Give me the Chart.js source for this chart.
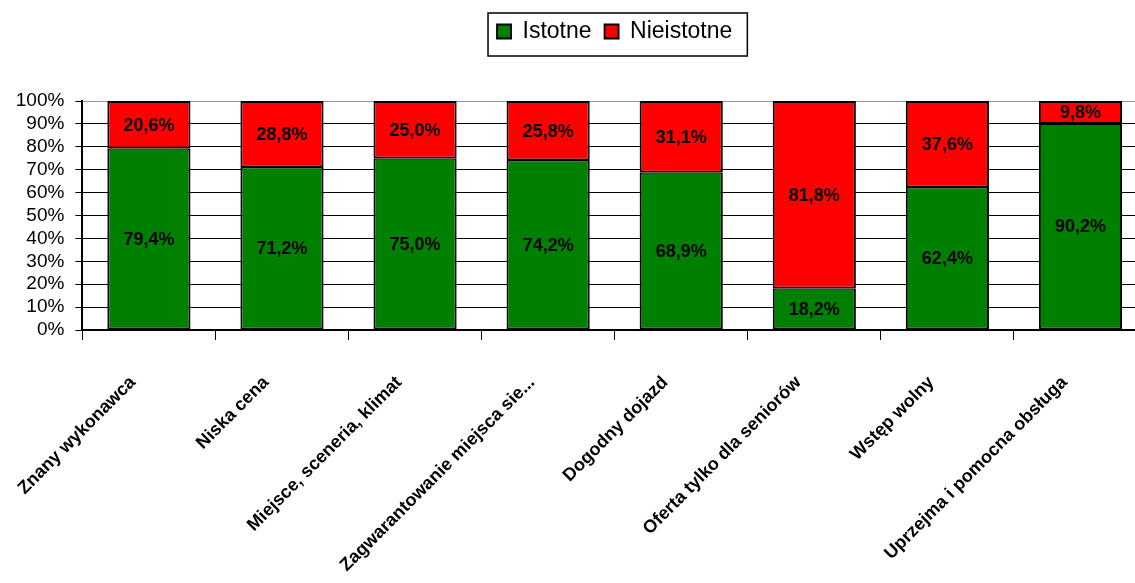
<!DOCTYPE html>
<html lang="pl">
<head>
<meta charset="utf-8">
<title>Istotne / Nieistotne</title>
<script src="https://cdn.jsdelivr.net/npm/chart.js@4.4.1/dist/chart.umd.min.js"></script>
<style>
  html, body { margin: 0; padding: 0; background: #fff; overflow: hidden; }
  #wrap { width: 1228px; height: 583px; }
</style>
</head>
<body>
<div id="wrap"><canvas id="grafico" width="1228" height="583"></canvas></div>
<script>
const KATEGORIE = [
  "Znany wykonawca",
  "Niska cena",
  "Miejsce, sceneria, klimat",
  "Zagwarantowanie miejsca sie...",
  "Dogodny dojazd",
  "Oferta tylko dla seniorów",
  "Wstęp wolny",
  "Uprzejma i pomocna obsługa"
];
const SERIE = ["Istotne", "Nieistotne"];
const ISTOTNE = [79.4, 71.2, 75.0, 74.2, 68.9, 18.2, 62.4, 90.2];
const NIEISTOTNE = [20.6, 28.8, 25.0, 25.8, 31.1, 81.8, 37.6, 9.8];
const Y_TICKS = [0, 10, 20, 30, 40, 50, 60, 70, 80, 90, 100];

const FONT = "'Liberation Sans', Arial, sans-serif";

// etykiety wartości w środku każdego segmentu
const etykiety = {
  id: "etykiety",
  afterDatasetsDraw(chart) {
    const ctx = chart.ctx;
    ctx.save();
    ctx.font = "bold 18px " + FONT;
    ctx.fillStyle = "#000";
    ctx.textAlign = "center";
    ctx.textBaseline = "middle";
    chart.data.datasets.forEach((ds, i) => {
      chart.getDatasetMeta(i).data.forEach((bar, j) => {
        const { x, y, base } = bar.getProps(["x", "y", "base"], true);
        const txt = ds.data[j].toFixed(1).replace(".", ",") + "%";
        ctx.fillText(txt, x, (y + base) / 2 + 1);
      });
    });
    ctx.restore();
  }
};

// ramka legendy + odstęp pod legendą
const ramkaLegendy = {
  id: "ramkaLegendy",
  beforeLayout(chart) {
    const lg = chart.legend;
    if (lg && !lg._poprawione) {
      const fit = lg.fit;
      lg.fit = function () {
        fit.call(this);
        this.height += 48;
      };
      lg._poprawione = true;
    }
  },
  afterDraw(chart) {
    const hb = chart.legend && chart.legend.legendHitBoxes;
    if (!hb || !hb.length) return;
    const last = hb[hb.length - 1];
    const x1 = hb[0].left - 9;
    const x2 = last.left + last.width + 15;
    const y1 = hb[0].top - 7;
    const y2 = hb[0].top + hb[0].height + 13;
    const ctx = chart.ctx;
    ctx.save();
    ctx.strokeStyle = "#000";
    ctx.lineWidth = 1.5;
    ctx.strokeRect(x1, y1, x2 - x1, y2 - y1);
    ctx.restore();
  }
};

const ctx = document.getElementById("grafico").getContext("2d");
new Chart(ctx, {
  type: "bar",
  data: {
    labels: KATEGORIE,
    datasets: [
      {
        label: SERIE[0], data: ISTOTNE, backgroundColor: "#008000", borderColor: "#000000",
        borderWidth: { top: 1.5, right: 2, bottom: 2, left: 2 }, borderSkipped: false
      },
      {
        label: SERIE[1], data: NIEISTOTNE, backgroundColor: "#ff0000", borderColor: "#000000",
        borderWidth: { top: 2, right: 2, bottom: 1.5, left: 2 }, borderSkipped: false
      }
    ]
  },
  options: {
    responsive: false,
    animation: false,
    layout: { padding: { left: 0, right: 81, top: 7, bottom: 0 } },
    datasets: {
      bar: {
        barPercentage: 0.625,
        categoryPercentage: 1
      }
    },
    plugins: {
      tooltip: { enabled: false },
      legend: {
        position: "top",
        fullSize: false,
        labels: {
          boxWidth: 14,
          boxHeight: 14,
          padding: 13,
          color: "#000",
          font: { family: FONT, size: 23 }
        }
      }
    },
    scales: {
      x: {
        stacked: true,
        afterFit: s => { s.height = 253; },
        border: { display: true, color: "#000", width: 2 },
        grid: {
          display: true,
          drawOnChartArea: false,
          offset: true,
          tickLength: 10,
          color: "#000",
          lineWidth: 1
        },
        ticks: {
          minRotation: 45,
          maxRotation: 45,
          autoSkip: false,
          padding: 32,
          labelOffset: -16,
          color: "#000",
          font: { family: FONT, size: 18, weight: "bold" }
        }
      },
      y: {
        stacked: true,
        min: 0,
        max: 100,
        afterFit: s => { s.width = 81; },
        afterBuildTicks: s => { s.ticks = Y_TICKS.map(v => ({ value: v })); },
        border: { display: true, color: "#000", width: 2 },
        grid: {
          color: c => (c.tick && c.tick.value === 100 ? "#9a9a9a" : "#000"),
          tickColor: "#000",
          lineWidth: 1,
          tickLength: 7
        },
        ticks: {
          autoSkip: false,
          padding: 11,
          color: "#000",
          font: { family: FONT, size: 19 },
          callback: v => v + "%"
        }
      }
    }
  },
  plugins: [etykiety, ramkaLegendy]
});
</script>
</body>
</html>
